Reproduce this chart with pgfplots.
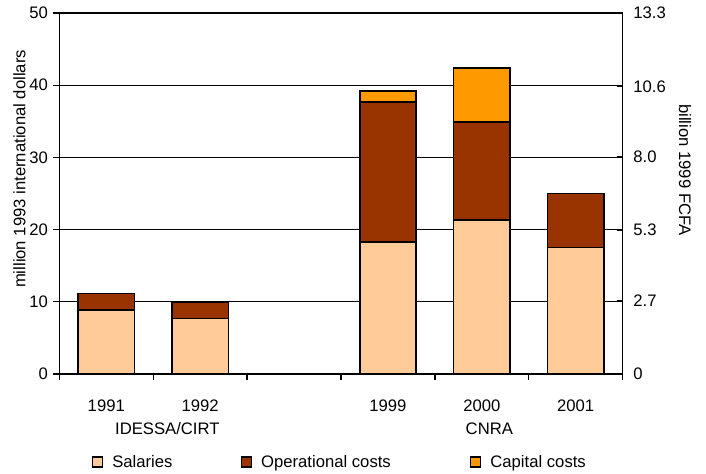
\documentclass[border=0pt]{standalone}
\usepackage{pgfplots}
\pgfplotsset{compat=1.18}
\usepackage{fontspec}
\setmainfont{Liberation Sans}
\newcommand{\fsz}{\fontsize{12.5}{15}\selectfont}
\definecolor{sal}{HTML}{FFCC99}
\definecolor{opc}{HTML}{993300}
\definecolor{cap}{HTML}{FF9900}
\begin{document}
\begin{tikzpicture}[font=\fsz]
\begin{axis}[
  scale only axis, width=422.55pt, height=270.75pt,
  at={(0,0)}, anchor=south west,
  clip=false,
  ybar stacked, bar width=0.6,
  xmin=-0.5, xmax=5.5, ymin=0, ymax=50,
  ytick={0,10,...,50},
  xtick={0,1,3,4,5}, xticklabels={1991,1992,1999,2000,2001},
  minor xtick={-0.5,0.5,...,5.5},
  major x tick style={draw=none},
  tick align=outside, tick pos=left,
  major tick length=5pt, minor tick length=4.5pt,
  ymajorgrids, grid style={black, line width=0.9pt},
  axis line style={line width=1.1pt},
  tick style={black, line width=1pt},
  /pgf/number format/assume math mode=true,
  tick label style={font=\fsz},
  xticklabel style={yshift=-11.25pt},
  ylabel={million 1993 international dollars},
  ylabel style={at={(axis description cs:-0.071,0.568)}, anchor=center, font=\fsz},
  legend columns=3,
  legend style={draw=none, fill=none, at={(0.0571,-0.2438)}, anchor=west, font=\fsz, inner sep=0pt,
    nodes={inner sep=3.4pt},
    /tikz/column 1/.style={column sep=3.5pt},
    /tikz/column 3/.style={column sep=3.5pt},
    /tikz/column 5/.style={column sep=3.5pt},
    /tikz/column 2/.style={column sep=47.7pt},
    /tikz/column 4/.style={column sep=55.9pt}},
  legend image code/.code={\draw[#1, line width=1pt] (0pt,-3.75pt) rectangle (7.5pt,3.75pt);},
]
\addplot[draw=black, fill=sal, line width=1.2pt] coordinates {(0,8.9) (1,7.7) (3,18.3) (4,21.3) (5,17.5)};
\addplot[draw=black, fill=opc, line width=1.2pt] coordinates {(0,2.25) (1,2.3) (3,19.4) (4,13.6) (5,7.5)};
\addplot[draw=black, fill=cap, line width=1.2pt] coordinates {(0,0) (1,0) (3,1.5) (4,7.5) (5,0)};
\legend{Salaries, Operational costs, Capital costs}
\node[font=\fsz, yshift=-41.25pt] at (axis cs:0.65,0) {IDESSA/CIRT};
\node[font=\fsz, yshift=-41.25pt] at (axis cs:4.08,0) {CNRA};
\end{axis}
\begin{axis}[
  scale only axis, width=422.55pt, height=270.75pt,
  at={(0,0)}, anchor=south west,
  xmin=-0.5, xmax=5.5, ymin=0, ymax=13.3,
  axis y line*=right, axis x line=none,
  ytick={0,2.7,5.3,8.0,10.6,13.3}, yticklabels={0,2.7,5.3,8.0,10.6,13.3},
  tick align=inside, major tick length=4.5pt,
  axis line style={line width=1.1pt, -},
  tick style={black, line width=1pt},
  yticklabel style={font=\fsz, xshift=4.5pt},
  ylabel={billion 1999 FCFA},
  ylabel style={at={(axis description cs:1.1106,0.565)}, anchor=center, rotate=180, font=\fsz},
]
\end{axis}
\pgfresetboundingbox
\useasboundingbox (-44.5pt,-75pt) rectangle (485.05pt,280.5pt);
\end{tikzpicture}
\end{document}
